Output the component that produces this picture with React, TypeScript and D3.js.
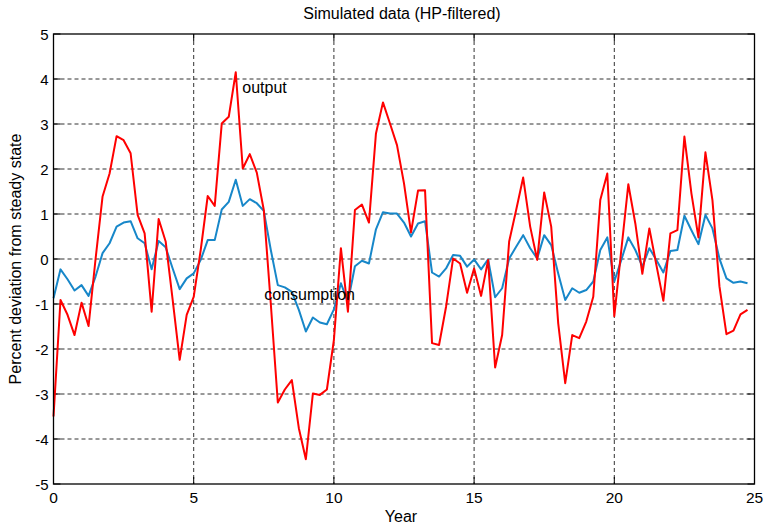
import { useEffect, useRef } from 'react';
import * as d3 from 'd3';

// quarterly observations, 0 .. 24.75 years
const output = [
  -3.5, -0.91, -1.24, -1.69, -0.97, -1.49, 0.0, 1.39, 1.9, 2.73, 2.64, 2.35,
  0.98, 0.57, -1.17, 0.89, 0.39, -0.91, -2.24, -1.24, -0.84, 0.2, 1.4, 1.18,
  3.01, 3.16, 4.15, 2.01, 2.33, 1.92, 1.09, -1.0, -3.19, -2.9, -2.69, -3.76,
  -4.45, -2.99, -3.02, -2.9, -1.8, 0.24, -1.17, 1.09, 1.21, 0.81, 2.79, 3.48,
  3.01, 2.53, 1.68, 0.59, 1.52, 1.53, -1.87, -1.91, -1.06, 0.01, -0.1, -0.75,
  -0.21, -0.82, -0.02, -2.41, -1.69, 0.39, 1.09, 1.81, 0.72, -0.02, 1.48, 0.72,
  -1.43, -2.76, -1.69, -1.76, -1.39, -0.84, 1.31, 1.9, -1.27, 0.2, 1.66, 0.79,
  -0.33, 0.68, -0.13, -0.93, 0.57, 0.64, 2.72, 1.46, 0.48, 2.37, 1.31, -0.61,
  -1.67, -1.59, -1.23, -1.13,
];

const consumption = [
  -0.87, -0.23, -0.45, -0.7, -0.58, -0.82, -0.39, 0.13, 0.35, 0.72, 0.81, 0.84,
  0.46, 0.35, -0.23, 0.4, 0.26, -0.21, -0.67, -0.43, -0.32, -0.02, 0.42, 0.42,
  1.1, 1.27, 1.76, 1.18, 1.33, 1.24, 1.07, 0.2, -0.58, -0.63, -0.73, -1.13,
  -1.61, -1.3, -1.41, -1.45, -1.12, -0.54, -0.95, -0.16, -0.04, -0.1, 0.66, 1.04,
  1.01, 1.01, 0.81, 0.5, 0.79, 0.84, -0.3, -0.39, -0.21, 0.09, 0.07, -0.17,
  -0.01, -0.23, -0.01, -0.85, -0.65, 0.01, 0.27, 0.53, 0.24, 0.01, 0.53, 0.31,
  -0.32, -0.91, -0.65, -0.75, -0.69, -0.5, 0.2, 0.48, -0.5, -0.02, 0.48, 0.2,
  -0.17, 0.24, -0.02, -0.3, 0.18, 0.2, 0.96, 0.64, 0.33, 0.98, 0.68, 0.01,
  -0.43, -0.53, -0.5, -0.54,
];

const xTicks = [0, 5, 10, 15, 20, 25];
const yTicks = [-5, -4, -3, -2, -1, 0, 1, 2, 3, 4, 5];

const W = 766;
const H = 526;
const font = 'Arial, "Liberation Sans", Helvetica, sans-serif';

export default function App() {
  const svgRef = useRef<SVGSVGElement>(null);

  useEffect(() => {
    if (!svgRef.current) return;
    const svg = d3.select(svgRef.current);
    svg.selectAll('*').remove();

    const margin = { top: 34, right: 11.5, bottom: 42, left: 53.5 };
    const innerW = W - margin.left - margin.right;
    const innerH = H - margin.top - margin.bottom;

    const x = d3.scaleLinear().domain([0, 25]).range([0, innerW]);
    const y = d3.scaleLinear().domain([-5, 5]).range([innerH, 0]);

    const g = svg.append('g')
      .attr('transform', `translate(${margin.left},${margin.top})`);

    // grid
    g.append('g').selectAll('line')
      .data(yTicks.slice(1, -1))
      .enter().append('line')
      .attr('x1', 0).attr('x2', innerW)
      .attr('y1', d => y(d)).attr('y2', d => y(d))
      .attr('stroke', '#333').attr('stroke-width', 1)
      .attr('stroke-dasharray', '4,3');

    g.append('g').selectAll('line')
      .data(xTicks.slice(1, -1))
      .enter().append('line')
      .attr('y1', 0).attr('y2', innerH)
      .attr('x1', d => x(d)).attr('x2', d => x(d))
      .attr('stroke', '#333').attr('stroke-width', 1)
      .attr('stroke-dasharray', '4,3');

    // inner ticks on all four sides
    const tl = 7;
    const ticks = g.append('g').attr('stroke', '#000').attr('stroke-width', 1);
    yTicks.forEach(t => {
      ticks.append('line').attr('x1', 0).attr('x2', tl).attr('y1', y(t)).attr('y2', y(t));
      ticks.append('line').attr('x1', innerW - tl).attr('x2', innerW).attr('y1', y(t)).attr('y2', y(t));
    });
    xTicks.forEach(t => {
      ticks.append('line').attr('y1', innerH).attr('y2', innerH - tl).attr('x1', x(t)).attr('x2', x(t));
      ticks.append('line').attr('y1', 0).attr('y2', tl).attr('x1', x(t)).attr('x2', x(t));
    });

    // series
    const line = d3.line<number>()
      .x((_, i) => x(i * 0.25))
      .y(d => y(d));

    g.append('path')
      .datum(consumption)
      .attr('d', line)
      .attr('fill', 'none')
      .attr('stroke', '#1787c9')
      .attr('stroke-width', 2)
      .attr('stroke-linejoin', 'round');

    g.append('path')
      .datum(output)
      .attr('d', line)
      .attr('fill', 'none')
      .attr('stroke', '#ff0000')
      .attr('stroke-width', 2)
      .attr('stroke-linejoin', 'round');

    // box
    g.append('rect')
      .attr('width', innerW).attr('height', innerH)
      .attr('fill', 'none').attr('stroke', '#000').attr('stroke-width', 1.3);

    // tick labels
    g.append('g').selectAll('text')
      .data(yTicks)
      .enter().append('text')
      .attr('x', -5).attr('y', d => y(d) + 5.5)
      .attr('text-anchor', 'end')
      .attr('font-family', font).attr('font-size', 15)
      .text(d => d);

    g.append('g').selectAll('text')
      .data(xTicks)
      .enter().append('text')
      .attr('x', d => x(d)).attr('y', innerH + 19)
      .attr('text-anchor', 'middle')
      .attr('font-family', font).attr('font-size', 15.5)
      .text(d => d);

    // series labels
    g.append('text')
      .attr('x', x(6.75) - 0.5).attr('y', y(3.75) + 3)
      .attr('font-family', font).attr('font-size', 16)
      .text('output');

    g.append('text')
      .attr('x', x(7.5) + 0.5).attr('y', y(-0.9) + 0.5)
      .attr('font-family', font).attr('font-size', 16)
      .text('consumption');

    // titles
    svg.append('text')
      .attr('x', 402).attr('y', 19)
      .attr('text-anchor', 'middle')
      .attr('font-family', font).attr('font-size', 16)
      .text('Simulated data (HP-filtered)');

    svg.append('text')
      .attr('x', 401).attr('y', 522)
      .attr('text-anchor', 'middle')
      .attr('font-family', font).attr('font-size', 16)
      .text('Year');

    svg.append('text')
      .attr('transform', `translate(21,${margin.top + innerH / 2}) rotate(-90)`)
      .attr('text-anchor', 'middle')
      .attr('font-family', font).attr('font-size', 16)
      .text('Percent deviation from steady state');
  }, []);

  return (
    <svg
      ref={svgRef}
      width={W}
      height={H}
      style={{ position: 'absolute', left: 0, top: 0, background: '#fff' }}
    />
  );
}
